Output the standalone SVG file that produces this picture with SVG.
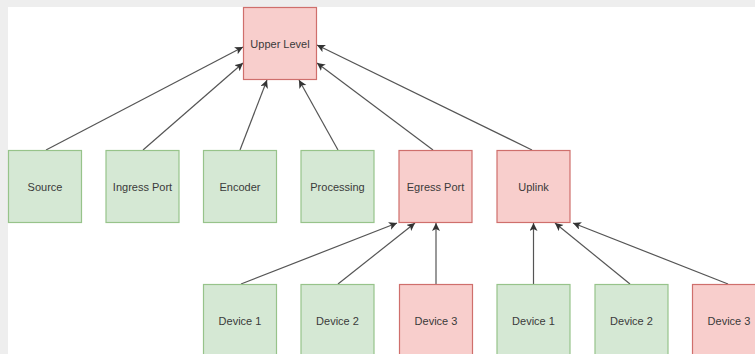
<svg xmlns="http://www.w3.org/2000/svg" width="755" height="354" viewBox="0 0 755 354">
  <style>
    .node rect { stroke-width: 1.2; }
    .ok rect { fill: #d5e8d4; stroke: #97c38a; }
    .warn rect { fill: #f8cecc; stroke: #cf6f6c; }
    .node text { font-family: "Liberation Sans", Arial, sans-serif; font-size: 11px; fill: #3a3a3a; text-anchor: middle; dominant-baseline: central; }
    #edges line { stroke: #555555; stroke-width: 1.2; fill: none; marker-end: url(#arrow); }
  </style>
  <defs>
    <marker id="arrow" markerUnits="userSpaceOnUse" markerWidth="10" markerHeight="10" refX="8" refY="4" orient="auto">
      <path d="M0,0 L8,4 L0,8 L2,4 Z" fill="#333333"/>
    </marker>
  </defs>

  <!-- canvas -->
  <rect x="0" y="0" width="755" height="354" fill="#eeeeee"/>
  <rect x="8" y="7" width="747" height="347" fill="#ffffff"/>

  <!-- connectors -->
  <g id="edges">
    <line x1="46" y1="150" x2="243" y2="47"/>
    <line x1="143" y1="150" x2="243" y2="63"/>
    <line x1="240" y1="150" x2="267" y2="80"/>
    <line x1="338" y1="150" x2="299" y2="80"/>
    <line x1="433" y1="150" x2="317" y2="63"/>
    <line x1="532" y1="150" x2="317" y2="45"/>

    <line x1="241" y1="284" x2="397" y2="223"/>
    <line x1="338" y1="284" x2="415" y2="223"/>
    <line x1="436" y1="284" x2="436" y2="223"/>
    <line x1="533.5" y1="284" x2="533.5" y2="223"/>
    <line x1="630" y1="284" x2="555" y2="223"/>
    <line x1="728" y1="284" x2="573" y2="223"/>
  </g>

  <!-- top -->
  <g id="upper-level" class="node warn">
    <rect x="243.5" y="7.5" width="73" height="72"/>
    <text x="280" y="43.5">Upper Level</text>
  </g>

  <!-- middle row -->
  <g id="source" class="node ok">
    <rect x="8.5" y="150.5" width="73" height="72"/>
    <text x="45" y="186.5">Source</text>
  </g>
  <g id="ingress-port" class="node ok">
    <rect x="106" y="150.5" width="73" height="72"/>
    <text x="142.5" y="186.5">Ingress Port</text>
  </g>
  <g id="encoder" class="node ok">
    <rect x="203.5" y="150.5" width="73" height="72"/>
    <text x="240" y="186.5">Encoder</text>
  </g>
  <g id="processing" class="node ok">
    <rect x="301" y="150.5" width="73" height="72"/>
    <text x="337.5" y="186.5">Processing</text>
  </g>
  <g id="egress-port" class="node warn">
    <rect x="399" y="150.5" width="73" height="72"/>
    <text x="435.5" y="186.5">Egress Port</text>
  </g>
  <g id="uplink" class="node warn">
    <rect x="497" y="150.5" width="73" height="72"/>
    <text x="533.5" y="186.5">Uplink</text>
  </g>

  <!-- bottom row -->
  <g id="egress-device-1" class="node ok">
    <rect x="203.5" y="284.5" width="73" height="72"/>
    <text x="240" y="320.5">Device 1</text>
  </g>
  <g id="egress-device-2" class="node ok">
    <rect x="301" y="284.5" width="73" height="72"/>
    <text x="337.5" y="320.5">Device 2</text>
  </g>
  <g id="egress-device-3" class="node warn">
    <rect x="399.5" y="284.5" width="73" height="72"/>
    <text x="436" y="320.5">Device 3</text>
  </g>
  <g id="uplink-device-1" class="node ok">
    <rect x="497" y="284.5" width="73" height="72"/>
    <text x="533.5" y="320.5">Device 1</text>
  </g>
  <g id="uplink-device-2" class="node ok">
    <rect x="595" y="284.5" width="73" height="72"/>
    <text x="631.5" y="320.5">Device 2</text>
  </g>
  <g id="uplink-device-3" class="node warn">
    <rect x="692.5" y="284.5" width="73" height="72"/>
    <text x="729" y="320.5">Device 3</text>
  </g>
</svg>
